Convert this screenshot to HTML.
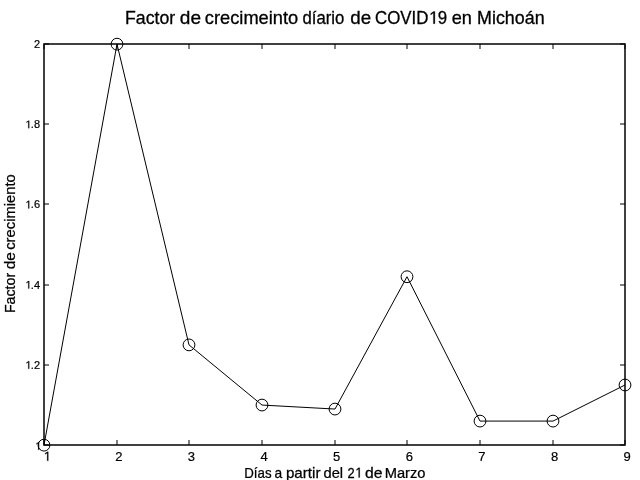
<!DOCTYPE html>
<html><head><meta charset="utf-8"><style>
html,body{margin:0;padding:0;background:#fff;width:640px;height:480px;overflow:hidden}
svg{display:block;will-change:transform}
text{font-family:"Liberation Sans",sans-serif;fill:#000}
</style></head><body>
<svg width="640" height="480" viewBox="0 0 640 480">
<rect x="0" y="0" width="640" height="480" fill="#fff"/>
<path d="M44 44H625V445H44Z" fill="none" stroke="#404040" stroke-width="2" stroke-linejoin="round"/>
<path d="M44 445V440M44 44V49" stroke="#000" stroke-width="1"/>
<path d="M117 445V440M117 44V49" stroke="#000" stroke-width="1"/>
<path d="M189 445V440M189 44V49" stroke="#000" stroke-width="1"/>
<path d="M262 445V440M262 44V49" stroke="#000" stroke-width="1"/>
<path d="M335 445V440M335 44V49" stroke="#000" stroke-width="1"/>
<path d="M407 445V440M407 44V49" stroke="#000" stroke-width="1"/>
<path d="M480 445V440M480 44V49" stroke="#000" stroke-width="1"/>
<path d="M553 445V440M553 44V49" stroke="#000" stroke-width="1"/>
<path d="M625 445V440M625 44V49" stroke="#000" stroke-width="1"/>
<path d="M44 445H49M625 445H620" stroke="#000" stroke-width="1"/>
<path d="M44 365H49M625 365H620" stroke="#000" stroke-width="1"/>
<path d="M44 285H49M625 285H620" stroke="#000" stroke-width="1"/>
<path d="M44 204H49M625 204H620" stroke="#000" stroke-width="1"/>
<path d="M44 124H49M625 124H620" stroke="#000" stroke-width="1"/>
<path d="M44 44H49M625 44H620" stroke="#000" stroke-width="1"/>
<polyline points="44.000,445.150 117.000,44.150 189.000,344.900 262.000,405.050 335.000,409.060 407.000,276.730 480.000,421.090 553.000,421.090 625.000,385.000" fill="none" stroke="#000" stroke-width="1"/>
<circle cx="44.000" cy="445.150" r="5.9" fill="none" stroke="#000" stroke-width="1"/>
<circle cx="117.000" cy="44.150" r="5.9" fill="none" stroke="#000" stroke-width="1"/>
<circle cx="189.000" cy="344.900" r="5.9" fill="none" stroke="#000" stroke-width="1"/>
<circle cx="262.000" cy="405.050" r="5.9" fill="none" stroke="#000" stroke-width="1"/>
<circle cx="335.000" cy="409.060" r="5.9" fill="none" stroke="#000" stroke-width="1"/>
<circle cx="407.000" cy="276.730" r="5.9" fill="none" stroke="#000" stroke-width="1"/>
<circle cx="480.000" cy="421.090" r="5.9" fill="none" stroke="#000" stroke-width="1"/>
<circle cx="553.000" cy="421.090" r="5.9" fill="none" stroke="#000" stroke-width="1"/>
<circle cx="625.000" cy="385.000" r="5.9" fill="none" stroke="#000" stroke-width="1"/>
<text transform="translate(46.70,460.8)" font-size="13" text-anchor="middle" stroke="#000" stroke-width="0.2"> </text>
<text transform="translate(118.83,460.8)" font-size="13" text-anchor="middle" stroke="#000" stroke-width="0.2">2</text>
<text transform="translate(191.45,460.8)" font-size="13" text-anchor="middle" stroke="#000" stroke-width="0.2">3</text>
<text transform="translate(264.07,460.8)" font-size="13" text-anchor="middle" stroke="#000" stroke-width="0.2">4</text>
<text transform="translate(336.70,460.8)" font-size="13" text-anchor="middle" stroke="#000" stroke-width="0.2">5</text>
<text transform="translate(409.32,460.8)" font-size="13" text-anchor="middle" stroke="#000" stroke-width="0.2">6</text>
<text transform="translate(481.95,460.8)" font-size="13" text-anchor="middle" stroke="#000" stroke-width="0.2">7</text>
<text transform="translate(554.58,460.8)" font-size="13" text-anchor="middle" stroke="#000" stroke-width="0.2">8</text>
<text transform="translate(627.20,460.8)" font-size="13" text-anchor="middle" stroke="#000" stroke-width="0.2">9</text>
<text transform="translate(40.7,449.80)" font-size="11" text-anchor="end" stroke="#000" stroke-width="0.2"> </text>
<text transform="translate(40,368.80)" font-size="11" text-anchor="end" stroke="#000" stroke-width="0.2"> .2</text>
<text transform="translate(40,288.60)" font-size="11" text-anchor="end" stroke="#000" stroke-width="0.2"> .4</text>
<text transform="translate(40,208.40)" font-size="11" text-anchor="end" stroke="#000" stroke-width="0.2"> .6</text>
<text transform="translate(40,128.20)" font-size="11" text-anchor="end" stroke="#000" stroke-width="0.2"> .8</text>
<text transform="translate(40,48.00)" font-size="11" text-anchor="end" stroke="#000" stroke-width="0.2">2</text>
<text transform="translate(125.00,23.7) scale(1.0,1)" font-size="17.7" stroke="#000" stroke-width="0.3">Factor</text>
<text transform="translate(179.82,23.7) scale(1.0778,1)" font-size="17.7" stroke="#000" stroke-width="0.3">de</text>
<text transform="translate(204.87,23.7) scale(1.0315,1)" font-size="17.7" stroke="#000" stroke-width="0.3">crecimeinto</text>
<text transform="translate(302.56,23.7) scale(0.9442,1)" font-size="17.7" stroke="#000" stroke-width="0.3">díario</text>
<text transform="translate(350.24,23.7) scale(1.0611,1)" font-size="17.7" stroke="#000" stroke-width="0.3">de</text>
<text transform="translate(375.05,23.7) scale(0.9527,1)" font-size="17.7" stroke="#000" stroke-width="0.3">COVID 9</text>
<text transform="translate(451.78,23.7) scale(1.025,1)" font-size="17.7" stroke="#000" stroke-width="0.3">en</text>
<text transform="translate(477.09,23.7) scale(1.01,1)" font-size="17.7" stroke="#000" stroke-width="0.3">Michoán</text>
<text transform="translate(244.26,477.5) scale(0.9357,1)" font-size="14.2" stroke="#000" stroke-width="0.25">Días</text>
<text transform="translate(274.43,477.5) scale(0.9714,1)" font-size="14.2" stroke="#000" stroke-width="0.25">a</text>
<text transform="translate(285.93,477.5) scale(1.0677,1)" font-size="14.2" stroke="#000" stroke-width="0.25">partir</text>
<text transform="translate(323.46,477.5) scale(1.0353,1)" font-size="14.2" stroke="#000" stroke-width="0.25">del</text>
<text transform="translate(347.49,477.5) scale(0.9071,1)" font-size="14.2" stroke="#000" stroke-width="0.25">2 </text>
<text transform="translate(364.89,477.5) scale(1.1071,1)" font-size="14.2" stroke="#000" stroke-width="0.25">de</text>
<text transform="translate(384.66,477.5) scale(1.0368,1)" font-size="14.2" stroke="#000" stroke-width="0.25">Marzo</text>
<text transform="translate(15,313.08) rotate(-90) scale(0.98,1)" font-size="14.5" stroke="#000" stroke-width="0.25">Factor</text>
<text transform="translate(15,269.27) rotate(-90) scale(1.0714,1)" font-size="14.5" stroke="#000" stroke-width="0.25">de</text>
<text transform="translate(15,249.82) rotate(-90) scale(1.0215,1)" font-size="14.5" stroke="#000" stroke-width="0.25">crecimiento</text>
<path transform="translate(46.70,460.8) translate(-2.817,0.000) scale(0.006348,-0.006348)" d="M696 0V1409H530L197 1180V1010L515 1237V0Z" stroke="#000" stroke-width="31.5"/>
<path transform="translate(40.7,449.80) translate(-5.325,0.000) scale(0.005371,-0.005371)" d="M696 0V1409H530L197 1180V1010L515 1237V0Z" stroke="#000" stroke-width="37.2"/>
<path transform="translate(40,368.80) translate(-14.497,0.000) scale(0.005371,-0.005371)" d="M696 0V1409H530L197 1180V1010L515 1237V0Z" stroke="#000" stroke-width="37.2"/>
<path transform="translate(40,288.60) translate(-14.497,0.000) scale(0.005371,-0.005371)" d="M696 0V1409H530L197 1180V1010L515 1237V0Z" stroke="#000" stroke-width="37.2"/>
<path transform="translate(40,208.40) translate(-14.497,0.000) scale(0.005371,-0.005371)" d="M696 0V1409H530L197 1180V1010L515 1237V0Z" stroke="#000" stroke-width="37.2"/>
<path transform="translate(40,128.20) translate(-14.497,0.000) scale(0.005371,-0.005371)" d="M696 0V1409H530L197 1180V1010L515 1237V0Z" stroke="#000" stroke-width="37.2"/>
<path transform="translate(375.05,23.7) scale(0.9527,1) translate(56.780,0.000) scale(0.008643,-0.008643)" d="M696 0V1409H530L197 1180V1010L515 1237V0Z" stroke="#000" stroke-width="34.7"/>
<path transform="translate(347.49,477.5) scale(0.9071,1) translate(8.689,0.000) scale(0.006934,-0.006934)" d="M696 0V1409H530L197 1180V1010L515 1237V0Z" stroke="#000" stroke-width="36.1"/>
</svg>
</body></html>
